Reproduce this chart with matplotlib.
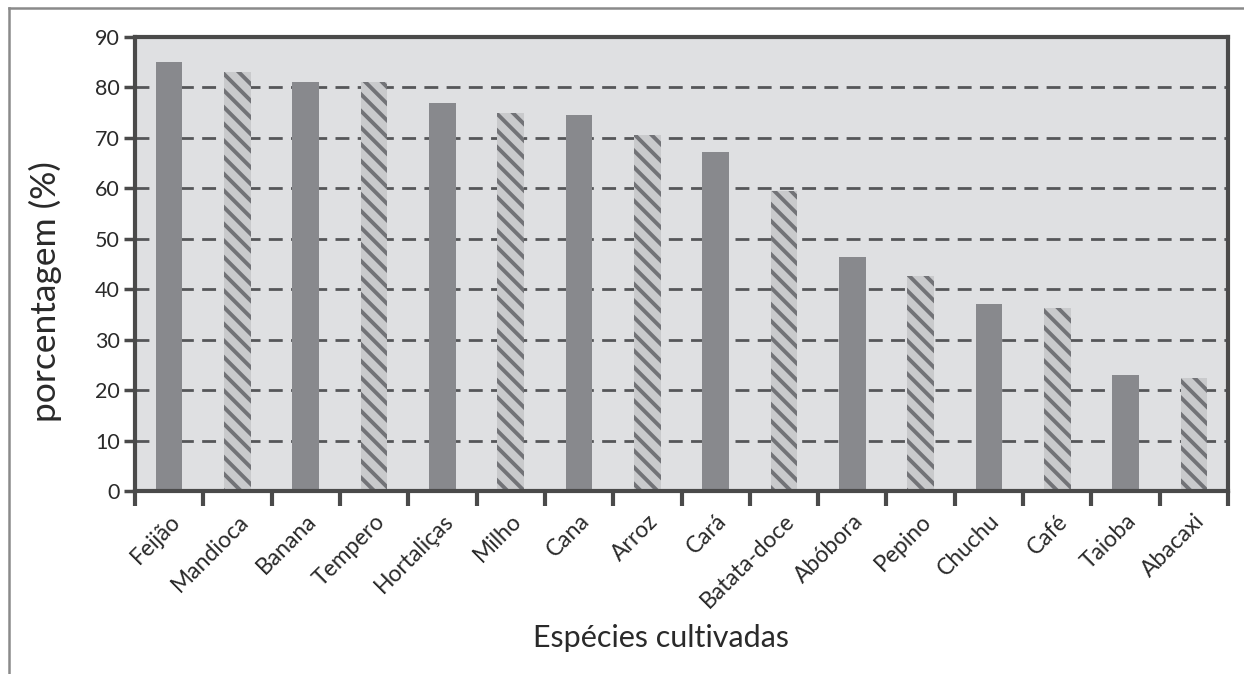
import matplotlib
matplotlib.use("Agg")
import matplotlib.pyplot as plt
from matplotlib.lines import Line2D
import numpy as np

categories = ["Feijão", "Mandioca", "Banana", "Tempero", "Hortaliças", "Milho",
              "Cana", "Arroz", "Cará", "Batata-doce", "Abóbora", "Pepino",
              "Chuchu", "Café", "Taioba", "Abacaxi"]
values = [85, 83, 81, 81, 77, 75, 74.5, 70.6, 67.3, 59.5, 46.3, 42.6, 37, 36.2, 23, 22.5]
hatched = [False, True] * 8
yticks = [0, 10, 20, 30, 40, 50, 60, 70, 80, 90]
ylabel = "porcentagem (%)"
xlabel = "Espécies cultivadas"

plt.rcParams['font.family'] = ['Lato', 'DejaVu Sans']
plt.rcParams['hatch.linewidth'] = 2.8
plt.rcParams['hatch.color'] = '#727377'

W, H = 1244, 674
fig = plt.figure(figsize=(W / 100, H / 100), dpi=100)
ax = fig.add_axes([135 / W, 1 - 491 / H, (1228 - 135) / W, (491 - 37) / H])
ax.set_facecolor('#dfe0e2')

x = np.arange(len(categories))
for xi, v, h in zip(x, values, hatched):
    if h:
        ax.bar(xi, v, width=0.39, color='#c9cacc', hatch='\\\\', edgecolor='#727377',
               linewidth=0, zorder=3)
    else:
        ax.bar(xi, v, width=0.39, color='#88898d', linewidth=0, zorder=3)

ax.set_xlim(-0.5, len(categories) - 0.5)
ax.set_ylim(0, 90)
ax.set_yticks(yticks)
ax.set_yticklabels([str(t) for t in yticks], fontsize=15.5, color='#2a2a2a')
ax.tick_params(axis='y', length=8, width=2.5, color='#4a4a4a', pad=3)

ax.set_xticks(x)
ax.set_xticklabels(categories, rotation=45, ha='right', rotation_mode='anchor',
                   fontsize=16.5, color='#2a2a2a')
ax.tick_params(axis='x', which='major', length=0, pad=14)
ax.set_xticks(np.arange(-0.5, len(categories)), minor=True)
ax.tick_params(axis='x', which='minor', length=11, width=3, color='#4a4a4a')

for gy in yticks[1:-1]:
    ax.axhline(gy, color='#555659', linewidth=2, linestyle=(0, (5, 3)), zorder=1)

for s in ax.spines.values():
    s.set_linewidth(3)
    s.set_color('#4a4a4a')
    s.set_zorder(5)

fig.text(45 / W, 1 - 292 / H, ylabel, rotation=90, ha='center', va='center',
         fontsize=25.5, color='#2a2a2a')
fig.text(661 / W, 1 - 638 / H, xlabel, ha='center', va='center',
         fontsize=22, color='#2a2a2a')

fig.add_artist(Line2D([9 / W, 9 / W], [0, 1 - 8 / H], transform=fig.transFigure,
                      color='#8a8a8a', linewidth=1.8))
fig.add_artist(Line2D([9 / W, 1], [1 - 8 / H, 1 - 8 / H], transform=fig.transFigure,
                      color='#8a8a8a', linewidth=1.8))

fig.savefig("out.png", dpi=100)
